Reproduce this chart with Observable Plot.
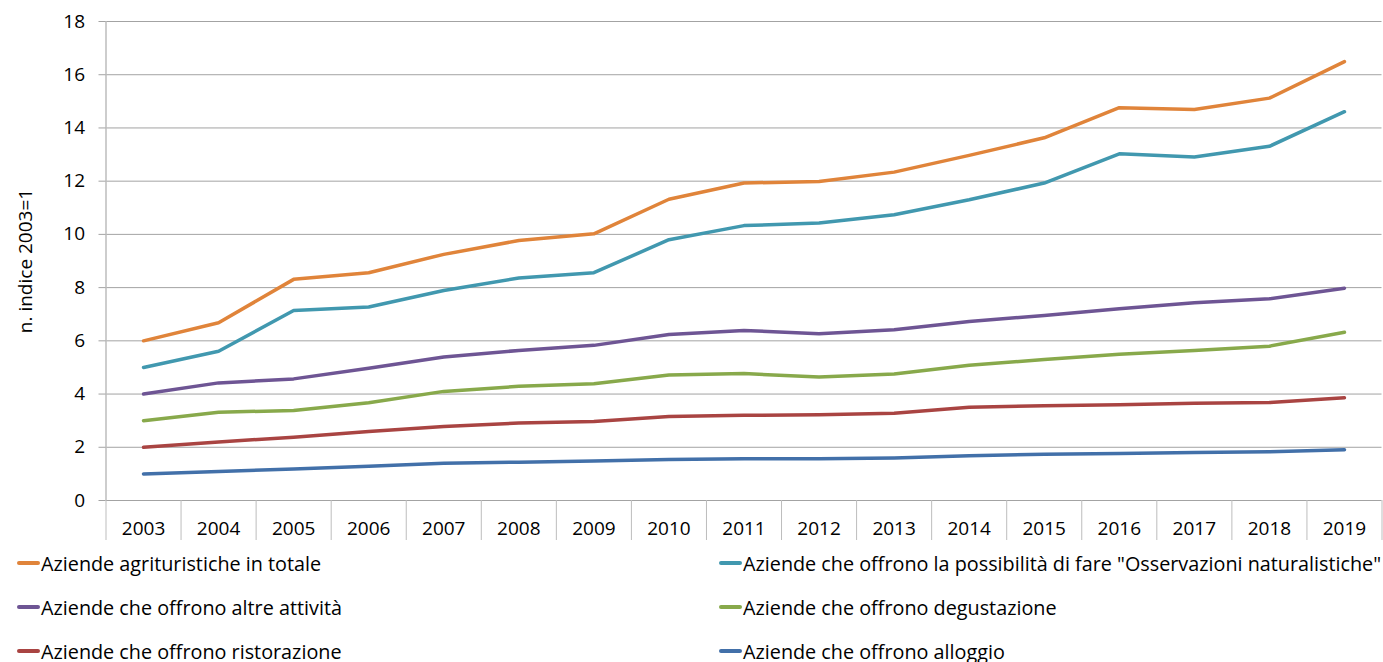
<!DOCTYPE html>
<html><head><meta charset="utf-8">
<script src="https://cdn.jsdelivr.net/npm/d3@7"></script>
<script src="https://cdn.jsdelivr.net/npm/@observablehq/plot@0.6"></script>
<style>
body{margin:0;background:#fff;font-family:"Open Sans",sans-serif;}
#legend{display:grid;grid-template-columns:702px auto;padding-left:17px;font-size:19.8px;color:#000;width:1366px}
.item{height:44px;display:flex;align-items:center;white-space:nowrap}
.sw{width:23px;height:4px;border-radius:2px;margin-right:1px;flex:none}
</style></head><body>
<div id="chart"></div><div id="legend"></div>
<script>
const years = [2003,2004,2005,2006,2007,2008,2009,2010,2011,2012,2013,2014,2015,2016,2017,2018,2019];
const seriesNames = [
  "Aziende agrituristiche in totale",
  "Aziende che offrono la possibilità di fare \"Osservazioni naturalistiche\"",
  "Aziende che offrono altre attività",
  "Aziende che offrono degustazione",
  "Aziende che offrono ristorazione",
  "Aziende che offrono alloggio"
];
const seriesColors = ["#E0843A","#4198AF","#6E5594","#88A94B","#A94442","#4270A9"];
const totale = [6.0, 6.68, 8.31, 8.56, 9.25, 9.77, 10.02, 11.32, 11.93, 11.99, 12.34, 12.97, 13.63, 14.76, 14.69, 15.12, 16.49];
const osservazioni = [5.0, 5.61, 7.14, 7.27, 7.89, 8.36, 8.56, 9.80, 10.33, 10.43, 10.74, 11.30, 11.93, 13.03, 12.91, 13.31, 14.61];
const altre = [4.0, 4.42, 4.57, 4.97, 5.39, 5.64, 5.83, 6.24, 6.39, 6.27, 6.42, 6.73, 6.95, 7.21, 7.43, 7.58, 7.98];
const degustazione = [3.0, 3.32, 3.38, 3.67, 4.10, 4.29, 4.39, 4.72, 4.77, 4.64, 4.75, 5.08, 5.30, 5.50, 5.64, 5.80, 6.32];
const ristorazione = [2.0, 2.20, 2.38, 2.59, 2.78, 2.91, 2.97, 3.16, 3.20, 3.22, 3.28, 3.50, 3.56, 3.60, 3.65, 3.68, 3.86];
const alloggio = [1.0, 1.09, 1.18, 1.29, 1.40, 1.44, 1.48, 1.54, 1.57, 1.57, 1.60, 1.68, 1.74, 1.77, 1.80, 1.83, 1.91];
const yTicks = [0,2,4,6,8,10,12,14,16,18];
const yLabel = "n. indice 2003=1";

const allSeries = [totale, osservazioni, altre, degustazione, ristorazione, alloggio];
const data = allSeries.flatMap((vals, s) => vals.map((v, i) => ({series: seriesNames[s], year: years[i], value: v})));
const boundaries = years.map(y => y - 0.5).concat([years[years.length - 1] + 0.5]);

const chart = Plot.plot({
  width: 1383, height: 541,
  marginLeft: 105.5, marginRight: 1.5, marginTop: 21, marginBottom: 41,
  style: {fontFamily: "Open Sans", fontSize: "19px", color: "#000", background: "#fff"},
  x: {type: "linear", domain: [boundaries[0], boundaries[boundaries.length - 1]]},
  y: {domain: [0, 18]},
  color: {domain: seriesNames, range: seriesColors},
  marks: [
    Plot.gridY(yTicks, {stroke: "#a3a3a3", strokeOpacity: 1}),
    Plot.ruleX([boundaries[0]], {stroke: "#bdbdbd", strokeWidth: 1.5}),
    Plot.axisY(yTicks, {tickSize: 7, tickPadding: 14, stroke: "#a3a3a3", strokeOpacity: 1, label: yLabel, labelAnchor: "center", labelArrow: "none", labelOffset: 88}),
    Plot.axisX(boundaries, {tickSize: 40, stroke: "#bdbdbd", strokeOpacity: 1, tickFormat: () => "", label: null}),
    Plot.axisX(years, {tickSize: 0, tickPadding: 21, tickFormat: d => String(d), label: null}),
    Plot.line(data, {x: "year", y: "value", z: "series", stroke: "series", strokeWidth: 3.5, strokeLinecap: "round", strokeLinejoin: "round"})
  ]
});
document.getElementById("chart").appendChild(chart);

const legend = document.getElementById("legend");
seriesNames.forEach((name, i) => {
  const item = document.createElement("div");
  item.className = "item";
  const sw = document.createElement("span");
  sw.className = "sw";
  sw.style.background = seriesColors[i];
  const t = document.createElement("span");
  t.textContent = name;
  item.appendChild(sw); item.appendChild(t);
  legend.appendChild(item);
});
</script>
</body></html>
